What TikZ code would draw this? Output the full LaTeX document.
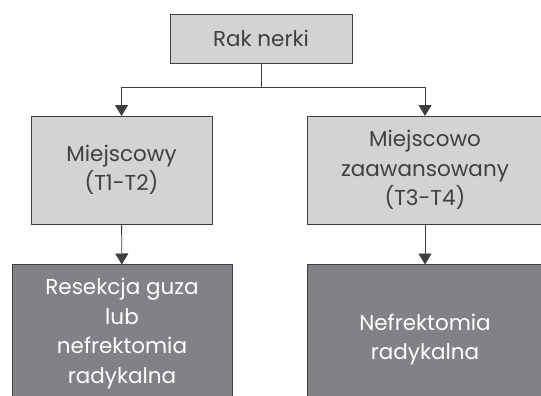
\documentclass[tikz,border=0pt]{standalone}
\usepackage{fontspec}
\setmainfont{Poppins}
\usepackage{xcolor}
\usepackage{tikz}
\usetikzlibrary{arrows.meta, positioning}

\definecolor{boxlight}{HTML}{D1D3D4}
\definecolor{boxdark}{HTML}{808285}
\definecolor{linegray}{HTML}{3F3F40}
\definecolor{textgray}{HTML}{404041}

\begin{document}
\begin{tikzpicture}[node distance=53pt,
    lightbox/.style={draw=linegray, line width=0.9pt, fill=boxlight, text=textgray, align=center, outer sep=0pt,
        font=\fontsize{21.5}{29.5}\selectfont},
    darkbox/.style={draw=linegray, line width=0.9pt, fill=boxdark, text=white, align=center, outer sep=0pt,
        font=\fontsize{21.5}{29.5}\selectfont},
    arr/.style={draw=linegray, line width=0.9pt, -{Triangle[length=11pt, width=13pt]}}]

    \useasboundingbox (0,0) rectangle (541pt,-396pt);
    \clip (0,0) rectangle (541pt,-396pt);

    % Top
    \node[lightbox, minimum width=182pt, minimum height=49pt] (rak) at (261pt,-38.5pt) {Rak nerki};

    % Stage
    \node[below=of rak, xshift=-139.5pt, lightbox, minimum width=181pt, minimum height=108pt] (miejscowy) {
        Miejscowy \\ (T1-T2)
    };
    \node[below=of rak, xshift=164pt, lightbox, minimum width=236pt, minimum height=108pt] (zaawansowany) {
        Miejscowo \\ zaawansowany \\ (T3-T4)
    };

    % Treatment
    \node[below=40.5pt of miejscowy, xshift=0.5pt, darkbox, minimum width=220pt, minimum height=138pt] (resekcja) {
        Resekcja guza \\ lub \\ nefrektomia \\ radykalna
    };
    \node[below=40.5pt of zaawansowany, darkbox, minimum width=236pt, minimum height=150pt] (nefrektomia) {
        Nefrektomia \\ radykalna
    };

    % Arrows
    \draw[arr] (rak.south) -- ++(0,-24pt) -| (miejscowy.north);
    \draw[arr] (rak.south) -- ++(0,-24pt) -| (zaawansowany.north);
    \draw[arr] (miejscowy) -- (resekcja);
    \draw[arr] (zaawansowany) -- (nefrektomia);

\end{tikzpicture}
\end{document}
